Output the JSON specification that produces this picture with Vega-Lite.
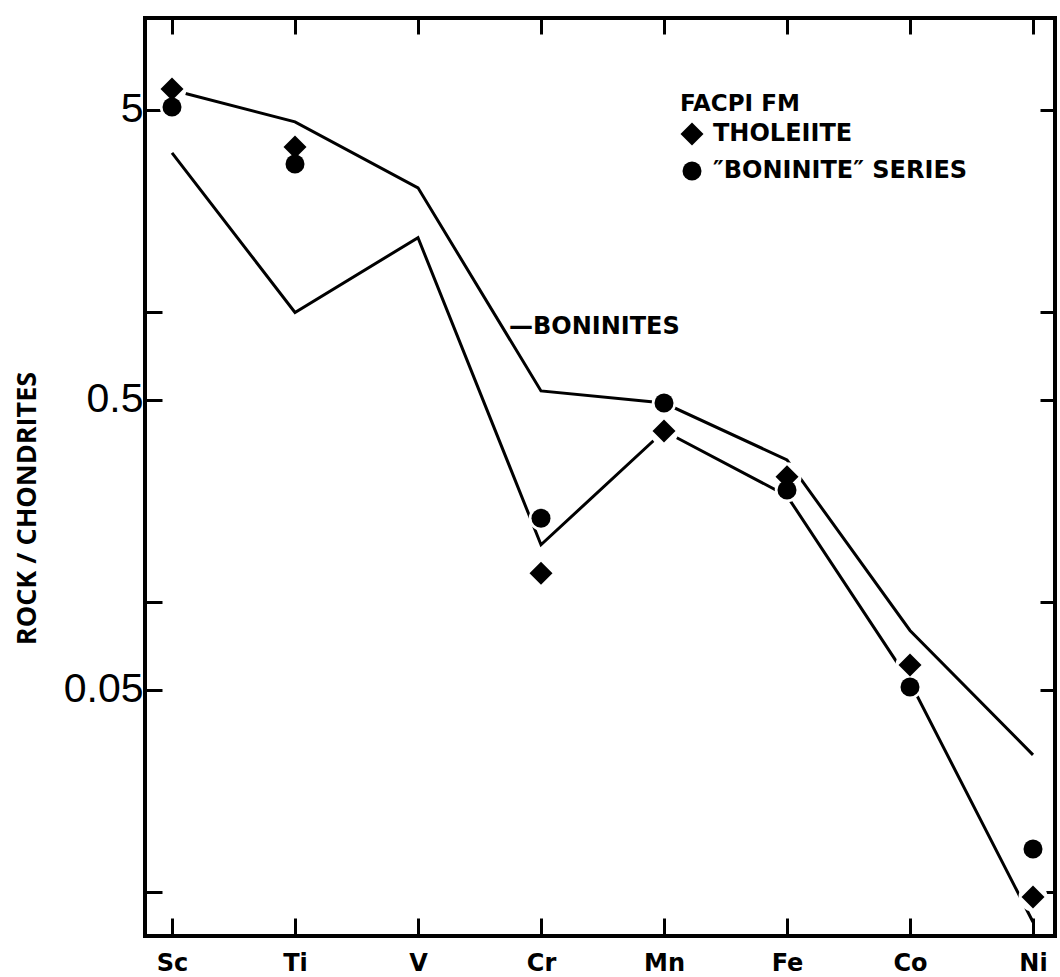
{
  "$schema": "https://vega.github.io/schema/vega-lite/v6.json",
  "width": 910,
  "height": 918,
  "autosize": "none",
  "padding": {"left": 145, "top": 18, "right": 5, "bottom": 41},
  "background": "white",
  "config": {
    "view": {"stroke": "black", "strokeWidth": 4},
    "axis": {
      "domain": false,
      "grid": false,
      "tickColor": "black",
      "tickWidth": 3,
      "labelColor": "black",
      "titleColor": "black"
    },
    "legend": {
      "orient": "none",
      "legendX": 535,
      "legendY": 75,
      "titleFont": "DejaVu Sans",
      "titleFontWeight": "bold",
      "titleFontSize": 23,
      "titleColor": "black",
      "titlePadding": 6,
      "labelFont": "DejaVu Sans",
      "labelFontWeight": "bold",
      "labelFontSize": 24,
      "labelColor": "black",
      "labelLimit": 0,
      "labelOffset": 9,
      "rowPadding": 13,
      "symbolFillColor": "black",
      "symbolStrokeWidth": 0
    }
  },
  "datasets": {
    "envelope": [
      {"element": "Sc", "bound": "upper", "ratio": 5.85},
      {"element": "Ti", "bound": "upper", "ratio": 4.54},
      {"element": "V", "bound": "upper", "ratio": 2.69},
      {"element": "Cr", "bound": "upper", "ratio": 0.536},
      {"element": "Mn", "bound": "upper", "ratio": 0.487},
      {"element": "Fe", "bound": "upper", "ratio": 0.31},
      {"element": "Co", "bound": "upper", "ratio": 0.08},
      {"element": "Ni", "bound": "upper", "ratio": 0.0298},
      {"element": "Sc", "bound": "lower", "ratio": 3.55},
      {"element": "Ti", "bound": "lower", "ratio": 1.0},
      {"element": "V", "bound": "lower", "ratio": 1.81},
      {"element": "Cr", "bound": "lower", "ratio": 0.158},
      {"element": "Mn", "bound": "lower", "ratio": 0.39},
      {"element": "Fe", "bound": "lower", "ratio": 0.233},
      {"element": "Co", "bound": "lower", "ratio": 0.0531},
      {"element": "Ni", "bound": "lower", "ratio": 0.0079}
    ],
    "samples": [
      {"element": "Sc", "series": "THOLEIITE", "ratio": 5.89},
      {"element": "Ti", "series": "THOLEIITE", "ratio": 3.72},
      {"element": "Cr", "series": "THOLEIITE", "ratio": 0.126},
      {"element": "Mn", "series": "THOLEIITE", "ratio": 0.39},
      {"element": "Fe", "series": "THOLEIITE", "ratio": 0.271},
      {"element": "Co", "series": "THOLEIITE", "ratio": 0.0608},
      {"element": "Ni", "series": "THOLEIITE", "ratio": 0.00964},
      {"element": "Sc", "series": "″BONINITE″ SERIES", "ratio": 5.11},
      {"element": "Ti", "series": "″BONINITE″ SERIES", "ratio": 3.25},
      {"element": "Cr", "series": "″BONINITE″ SERIES", "ratio": 0.195},
      {"element": "Mn", "series": "″BONINITE″ SERIES", "ratio": 0.487},
      {"element": "Fe", "series": "″BONINITE″ SERIES", "ratio": 0.244},
      {"element": "Co", "series": "″BONINITE″ SERIES", "ratio": 0.0511},
      {"element": "Ni", "series": "″BONINITE″ SERIES", "ratio": 0.0141}
    ]
  },
  "resolve": {
    "axis": {"x": "independent", "y": "independent"},
    "scale": {"size": "independent"},
    "legend": {"shape": "independent", "size": "independent"}
  },
  "layer": [
    {
      "data": {"name": "envelope"},
      "mark": {"type": "line", "color": "black", "strokeWidth": 3, "strokeJoin": "miter"},
      "encoding": {
        "x": {
          "field": "element",
          "type": "nominal",
          "sort": ["Sc", "Ti", "V", "Cr", "Mn", "Fe", "Co", "Ni"],
          "scale": {"type": "point", "range": [27, 888], "padding": 0},
          "axis": {
            "orient": "bottom",
            "title": null,
            "tickSize": -18,
            "labelPadding": 33,
            "labelAngle": 0,
            "labelFont": "DejaVu Sans",
            "labelFontWeight": "bold",
            "labelFontSize": 24
          }
        },
        "y": {
          "field": "ratio",
          "type": "quantitative",
          "scale": {"type": "log", "domain": [0.00707, 10.36], "nice": false},
          "axis": {
            "orient": "left",
            "values": [0.01, 0.05, 0.1, 0.5, 1, 5],
            "tickSize": -17,
            "labelPadding": 19,
            "labelFont": "Liberation Sans",
            "labelFontSize": 41,
            "labelOverlap": false,
            "labelFlush": false,
            "labelExpr": "datum.value == 5 ? '5' : datum.value == 0.5 ? '0.5' : datum.value == 0.05 ? '0.05' : ''",
            "title": "ROCK / CHONDRITES",
            "titleFont": "Open Sans",
            "titleFontWeight": "bold",
            "titleFontSize": 27,
            "titleX": -118,
            "titleY": 490,
            "titleBaseline": "middle",
            "titleAngle": -90
          }
        },
        "detail": {"field": "bound", "type": "nominal"}
      }
    },
    {
      "data": {"name": "samples"},
      "mark": {"type": "point", "shape": "circle", "filled": true, "color": "white", "opacity": 1},
      "encoding": {
        "x": {
          "field": "element",
          "type": "nominal",
          "sort": ["Sc", "Ti", "V", "Cr", "Mn", "Fe", "Co", "Ni"],
          "scale": {"type": "point", "range": [27, 888], "padding": 0},
          "axis": {"orient": "top", "title": null, "labels": false, "tickSize": -16}
        },
        "y": {
          "field": "ratio",
          "type": "quantitative",
          "scale": {"type": "log", "domain": [0.00707, 10.36], "nice": false},
          "axis": {
            "orient": "right",
            "title": null,
            "labels": false,
            "values": [0.01, 0.05, 0.1, 0.5, 1, 5],
            "tickSize": -15
          }
        },
        "size": {
          "field": "series",
          "type": "ordinal",
          "scale": {"domain": ["THOLEIITE", "″BONINITE″ SERIES"], "range": [840, 600]},
          "legend": null
        }
      }
    },
    {
      "data": {"name": "samples"},
      "mark": {"type": "point", "filled": true, "color": "black", "opacity": 1},
      "encoding": {
        "x": {
          "field": "element",
          "type": "nominal",
          "sort": ["Sc", "Ti", "V", "Cr", "Mn", "Fe", "Co", "Ni"],
          "scale": {"type": "point", "range": [27, 888], "padding": 0},
          "axis": null
        },
        "y": {
          "field": "ratio",
          "type": "quantitative",
          "scale": {"type": "log", "domain": [0.00707, 10.36], "nice": false},
          "axis": null
        },
        "shape": {
          "field": "series",
          "type": "nominal",
          "scale": {"domain": ["THOLEIITE", "″BONINITE″ SERIES"], "range": ["diamond", "circle"]},
          "legend": {"title": "FACPI FM"}
        },
        "size": {
          "field": "series",
          "type": "ordinal",
          "scale": {"domain": ["THOLEIITE", "″BONINITE″ SERIES"], "range": [529, 361]},
          "legend": {"title": "FACPI FM"}
        }
      }
    },
    {
      "data": {"values": [{"element": "Cr", "ratio": 0.84, "label": "—BONINITES"}]},
      "mark": {
        "type": "text",
        "align": "left",
        "baseline": "alphabetic",
        "dx": -32,
        "font": "DejaVu Sans",
        "fontWeight": "bold",
        "fontSize": 24,
        "color": "black"
      },
      "encoding": {
        "x": {
          "field": "element",
          "type": "nominal",
          "sort": ["Sc", "Ti", "V", "Cr", "Mn", "Fe", "Co", "Ni"],
          "scale": {"type": "point", "range": [27, 888], "padding": 0},
          "axis": null
        },
        "y": {
          "field": "ratio",
          "type": "quantitative",
          "scale": {"type": "log", "domain": [0.00707, 10.36], "nice": false},
          "axis": null
        },
        "text": {"field": "label", "type": "nominal"}
      }
    }
  ]
}
